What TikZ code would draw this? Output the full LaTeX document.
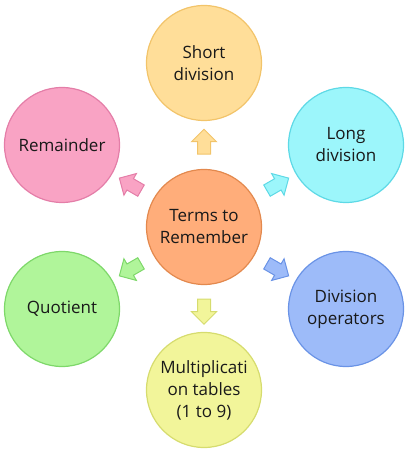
\documentclass[tikz,border=0pt]{standalone}
\usepackage{fontspec}
\setmainfont{Open Sans}
\usetikzlibrary{shapes.arrows,calc}

\definecolor{centreFill}{HTML}{FFAD7A}
\definecolor{centreLine}{HTML}{E3894E}
\definecolor{shortFill}{HTML}{FFDE99}
\definecolor{shortLine}{HTML}{F2C46A}
\definecolor{longFill}{HTML}{9CF6FB}
\definecolor{longLine}{HTML}{5ED9E6}
\definecolor{operFill}{HTML}{9DBBF9}
\definecolor{operLine}{HTML}{6A93E6}
\definecolor{tableFill}{HTML}{F2F59A}
\definecolor{tableLine}{HTML}{D6DC6E}
\definecolor{quotFill}{HTML}{B0F59A}
\definecolor{quotLine}{HTML}{7ED86A}
\definecolor{remFill}{HTML}{F9A3C4}
\definecolor{remLine}{HTML}{E47EA8}

\tikzstyle{bubble} = [circle, draw, line width=1.2pt, minimum size=115pt, inner sep=0pt, align=center, text=black!90, font=\fontsize{17}{22}\selectfont]
\tikzstyle{pointer} = [single arrow, draw, line width=1pt, minimum height=25pt, inner sep=6pt, single arrow head extend=6pt, single arrow head indent=0pt]

\begin{document}
\begin{tikzpicture}[x=1pt, y=1pt]
\useasboundingbox (0,0) rectangle (410,454);
\node [bubble, fill=centreFill, draw=centreLine] (centre) at (204,227) {Terms to\\Remember};
\node [bubble, fill=shortFill, draw=shortLine] (short) at (centre) [yshift=164pt] {Short\\division};
\node [bubble, fill=longFill, draw=longLine] (long) at (centre) [xshift=142pt, yshift=82pt] {Long\\division};
\node [bubble, fill=operFill, draw=operLine] (oper) at (centre) [xshift=142pt, yshift=-82pt] {Division\\operators};
\node [bubble, fill=tableFill, draw=tableLine] (tables) at (centre) [yshift=-163pt] {Multiplicati\\on tables\\(1 to 9)};
\node [bubble, fill=quotFill, draw=quotLine] (quot) at (centre) [xshift=-142pt, yshift=-82pt] {Quotient};
\node [bubble, fill=remFill, draw=remLine] (rem) at (centre) [xshift=-142pt, yshift=82pt] {Remainder};
% arrows half way out
\node [pointer, fill=shortFill, draw=shortLine, rotate=90] (toShort) at ($(centre)!0.5!(short)$) {};
\node [pointer, fill=longFill, draw=longLine, rotate=30] (toLong) at ($(centre)!0.5!(long)$) {};
\node [pointer, fill=operFill, draw=operLine, rotate=-30] (toOper) at ($(centre)!0.5!(oper)$) {};
\node [pointer, fill=tableFill, draw=tableLine, rotate=-90] (toTables) at ($(centre)!0.5!(tables)$) {};
\node [pointer, fill=quotFill, draw=quotLine, rotate=210] (toQuot) at ($(centre)!0.5!(quot)$) {};
\node [pointer, fill=remFill, draw=remLine, rotate=150] (toRem) at ($(centre)!0.5!(rem)$) {};
\end{tikzpicture}
\end{document}
